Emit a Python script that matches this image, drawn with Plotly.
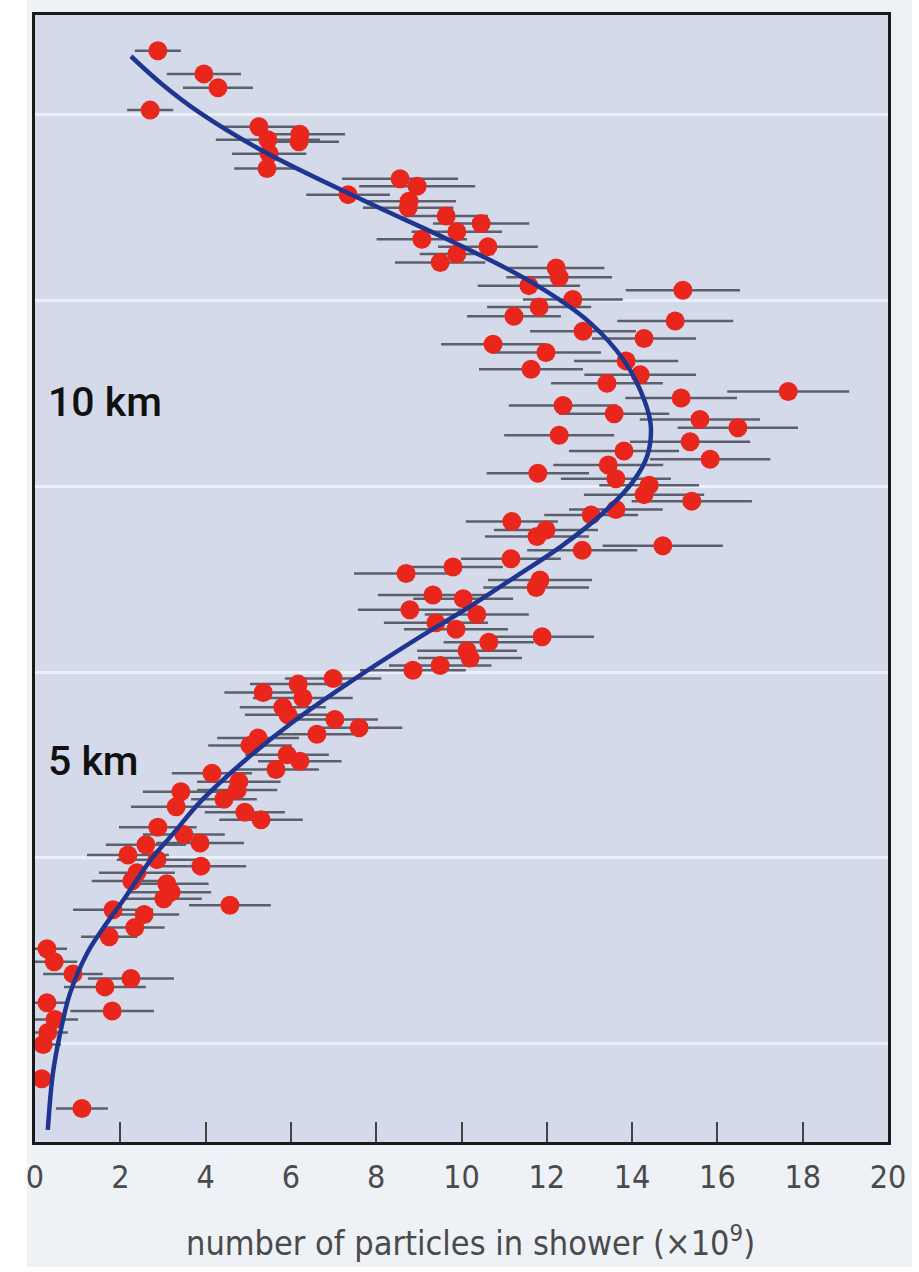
import plotly.graph_objects as go

# Measured shower points: particles (x10^9), atmospheric depth (arb. units), half error
particles = [2.88, 3.96, 4.29, 2.70, 5.25, 5.46, 6.21, 6.19, 5.49, 5.44,
             8.56, 8.96, 7.34, 8.77, 8.75, 9.64, 10.46, 9.89, 9.07, 10.62,
             9.89, 9.50, 12.22, 12.29, 11.58, 15.19, 12.61, 11.82, 11.23, 15.01,
             12.85, 14.28, 10.74, 11.98, 13.86, 11.63, 14.19, 13.41, 17.66, 15.15,
             12.38, 13.58, 15.59, 16.48, 12.29, 15.36, 13.81, 15.83, 13.44, 11.79,
             13.62, 14.40, 14.28, 15.40, 13.62, 13.04, 11.18, 11.98, 11.77, 14.72,
             12.83, 11.16, 9.80, 8.70, 11.84, 11.75, 9.33, 10.04, 8.79, 10.36,
             9.40, 9.87, 11.89, 10.64, 10.13, 10.20, 9.50, 8.86, 6.99, 6.17,
             5.35, 6.28, 5.81, 5.93, 7.03, 7.60, 6.61, 5.23, 5.04, 5.91,
             6.21, 5.65, 4.15, 4.78, 4.74, 3.42, 4.43, 3.31, 4.92, 5.30,
             2.88, 3.49, 3.87, 2.60, 2.18, 2.86, 3.89, 2.39, 2.27, 3.09,
             3.19, 3.02, 4.57, 1.83, 2.56, 2.34, 1.74, 0.28, 0.45, 0.89,
             2.25, 1.64, 0.28, 1.81, 0.47, 0.30, 0.19, 0.16, 1.10]
depth = [131, 156, 171, 195, 213, 227, 221, 229, 242, 258,
         269, 277, 286, 293, 300, 309, 317, 326, 334, 342,
         350, 359, 365, 375, 384, 389, 399, 407, 417, 422,
         433, 441, 447, 456, 465, 474, 480, 489, 498, 505,
         513, 522, 528, 537, 545, 552, 562, 571, 577, 586,
         592, 599, 609, 616, 625, 631, 638, 647, 654, 664,
         669, 678, 687, 694, 701, 709, 717, 721, 733, 738,
         747, 754, 762, 768, 777, 785, 793, 798, 807, 813,
         822, 828, 838, 846, 851, 860, 867, 871, 879, 889,
         896, 905, 909, 918, 927, 929, 937, 945, 951, 959,
         967, 975, 984, 986, 997, 1002, 1009, 1016, 1025, 1028,
         1037, 1044, 1051, 1056, 1061, 1075, 1085, 1098, 1112, 1125,
         1130, 1139, 1156, 1165, 1174, 1188, 1201, 1238, 1270]
error = [0.54, 0.87, 0.82, 0.54, 0.89, 1.22, 1.06, 0.94, 0.87, 0.77,
         1.36, 1.36, 0.98, 1.10, 1.06, 0.98, 1.13, 1.06, 1.06, 1.17,
         0.87, 1.06, 1.13, 1.24, 1.20, 1.34, 1.17, 1.22, 1.10, 1.36,
         1.24, 1.22, 1.22, 1.29, 1.22, 1.22, 1.31, 1.31, 1.43, 1.31,
         1.27, 1.29, 1.41, 1.41, 1.29, 1.41, 1.29, 1.41, 1.29, 1.20,
         1.29, 1.17, 1.41, 1.41, 1.10, 1.10, 1.08, 1.22, 1.22, 1.41,
         1.29, 1.17, 1.17, 1.22, 1.22, 1.24, 1.29, 1.17, 1.22, 1.22,
         1.22, 1.22, 1.22, 1.06, 1.17, 1.22, 1.20, 1.24, 1.13, 1.13,
         0.91, 1.17, 1.01, 1.01, 1.01, 1.01, 0.94, 0.96, 0.98, 0.98,
         0.98, 1.01, 0.94, 0.98, 0.94, 0.89, 0.77, 1.06, 0.94, 0.98,
         0.91, 0.96, 1.03, 0.94, 0.96, 0.94, 1.06, 0.89, 0.94, 0.98,
         0.94, 0.89, 0.96, 0.94, 0.82, 0.70, 0.66, 0.47, 0.54, 0.70,
         1.01, 0.96, 0.47, 0.98, 0.54, 0.47, 0.42, 0.20, 0.61]

# Fitted shower profile curve
fit_particles = [2.25, 2.95, 3.87, 5.42, 7.83, 9.85, 11.63, 12.99, 13.83, 14.30,
                 14.44, 14.35, 14.02, 13.34, 12.33, 11.28, 10.18, 8.86, 7.41, 6.07,
                 4.90, 3.89, 3.24, 2.70, 2.11, 1.64, 1.22, 0.82, 0.59, 0.42,
                 0.30]
fit_depth = [137, 166, 198, 241, 295, 338, 380, 423, 466, 509,
             536, 568, 595, 628, 665, 697, 730, 767, 810, 853,
             896, 939, 974, 1003, 1043, 1073, 1103, 1146, 1189, 1232,
             1293]

x_ticks = [0, 2, 4, 6, 8, 10, 12, 14, 16, 18, 20]
grid_depths = [200, 400, 600, 800, 1000, 1200]
altitude_labels = ["10 km", "5 km"]
altitude_label_depth = [509, 896]

NARROW = "DejaVu Sans Condensed, Liberation Sans Narrow, Arial Narrow, Roboto, sans-serif"

fig = go.Figure()

# light page panel behind the chart
fig.add_shape(type="rect", xref="paper", yref="paper",
              x0=-0.0094, x1=1.028, y0=-0.111, y1=1.02,
              fillcolor="#eef1f6", line=dict(width=0), layer="below")
# plot area fill
fig.add_shape(type="rect", xref="paper", yref="paper",
              x0=0, x1=1, y0=0, y1=1,
              fillcolor="#d4daea", line=dict(width=0), layer="below")

fig.add_trace(go.Scatter(
    x=particles, y=depth, mode="markers",
    marker=dict(color="#e8261c", size=19, line=dict(width=0)),
    error_x=dict(type="data", array=error, symmetric=True,
                 thickness=2.5, width=0, color="#5b606c"),
    hoverinfo="skip", showlegend=False))

fig.add_trace(go.Scatter(
    x=fit_particles, y=fit_depth, mode="lines",
    line=dict(color="#1f3590", width=4.5, shape="spline", smoothing=1.0),
    hoverinfo="skip", showlegend=False))

for txt, d in zip(altitude_labels, altitude_label_depth):
    fig.add_annotation(x=0.25, y=d, xref="x", yref="y", text=txt,
                       showarrow=False, xanchor="left", yanchor="middle",
                       font=dict(family="Roboto", size=41, color="#111111", weight=500))

fig.add_annotation(x=0.51, y=-0.0875, xref="paper", yref="paper",
                   text="number of particles in shower (×10<sup>9</sup>)",
                   showarrow=False, xanchor="center", yanchor="middle",
                   font=dict(family=NARROW, size=34, color="#4a4a4a"))

fig.update_layout(
    width=919, height=1272,
    margin=dict(l=35, r=31, t=12, b=130),
    paper_bgcolor="white",
    plot_bgcolor="rgba(0,0,0,0)",
    xaxis=dict(range=[0, 20], tickvals=x_ticks, ticktext=[str(v) for v in x_ticks],
               ticks="inside", ticklen=20, tickwidth=1.5, tickcolor="#444444",
               showgrid=False, zeroline=False,
               showline=True, mirror=True, linecolor="#1a1a1a", linewidth=3,
               tickfont=dict(family=NARROW, size=32, color="#4a4a4a"),
               ticklabelstandoff=5),
    yaxis=dict(range=[1306, 92.6], tickvals=grid_depths, showticklabels=False,
               ticks="", showgrid=True, gridcolor="#eceff7", gridwidth=3,
               zeroline=False, showline=True, mirror=True,
               linecolor="#1a1a1a", linewidth=3),
)

fig.write_html("out.html")
